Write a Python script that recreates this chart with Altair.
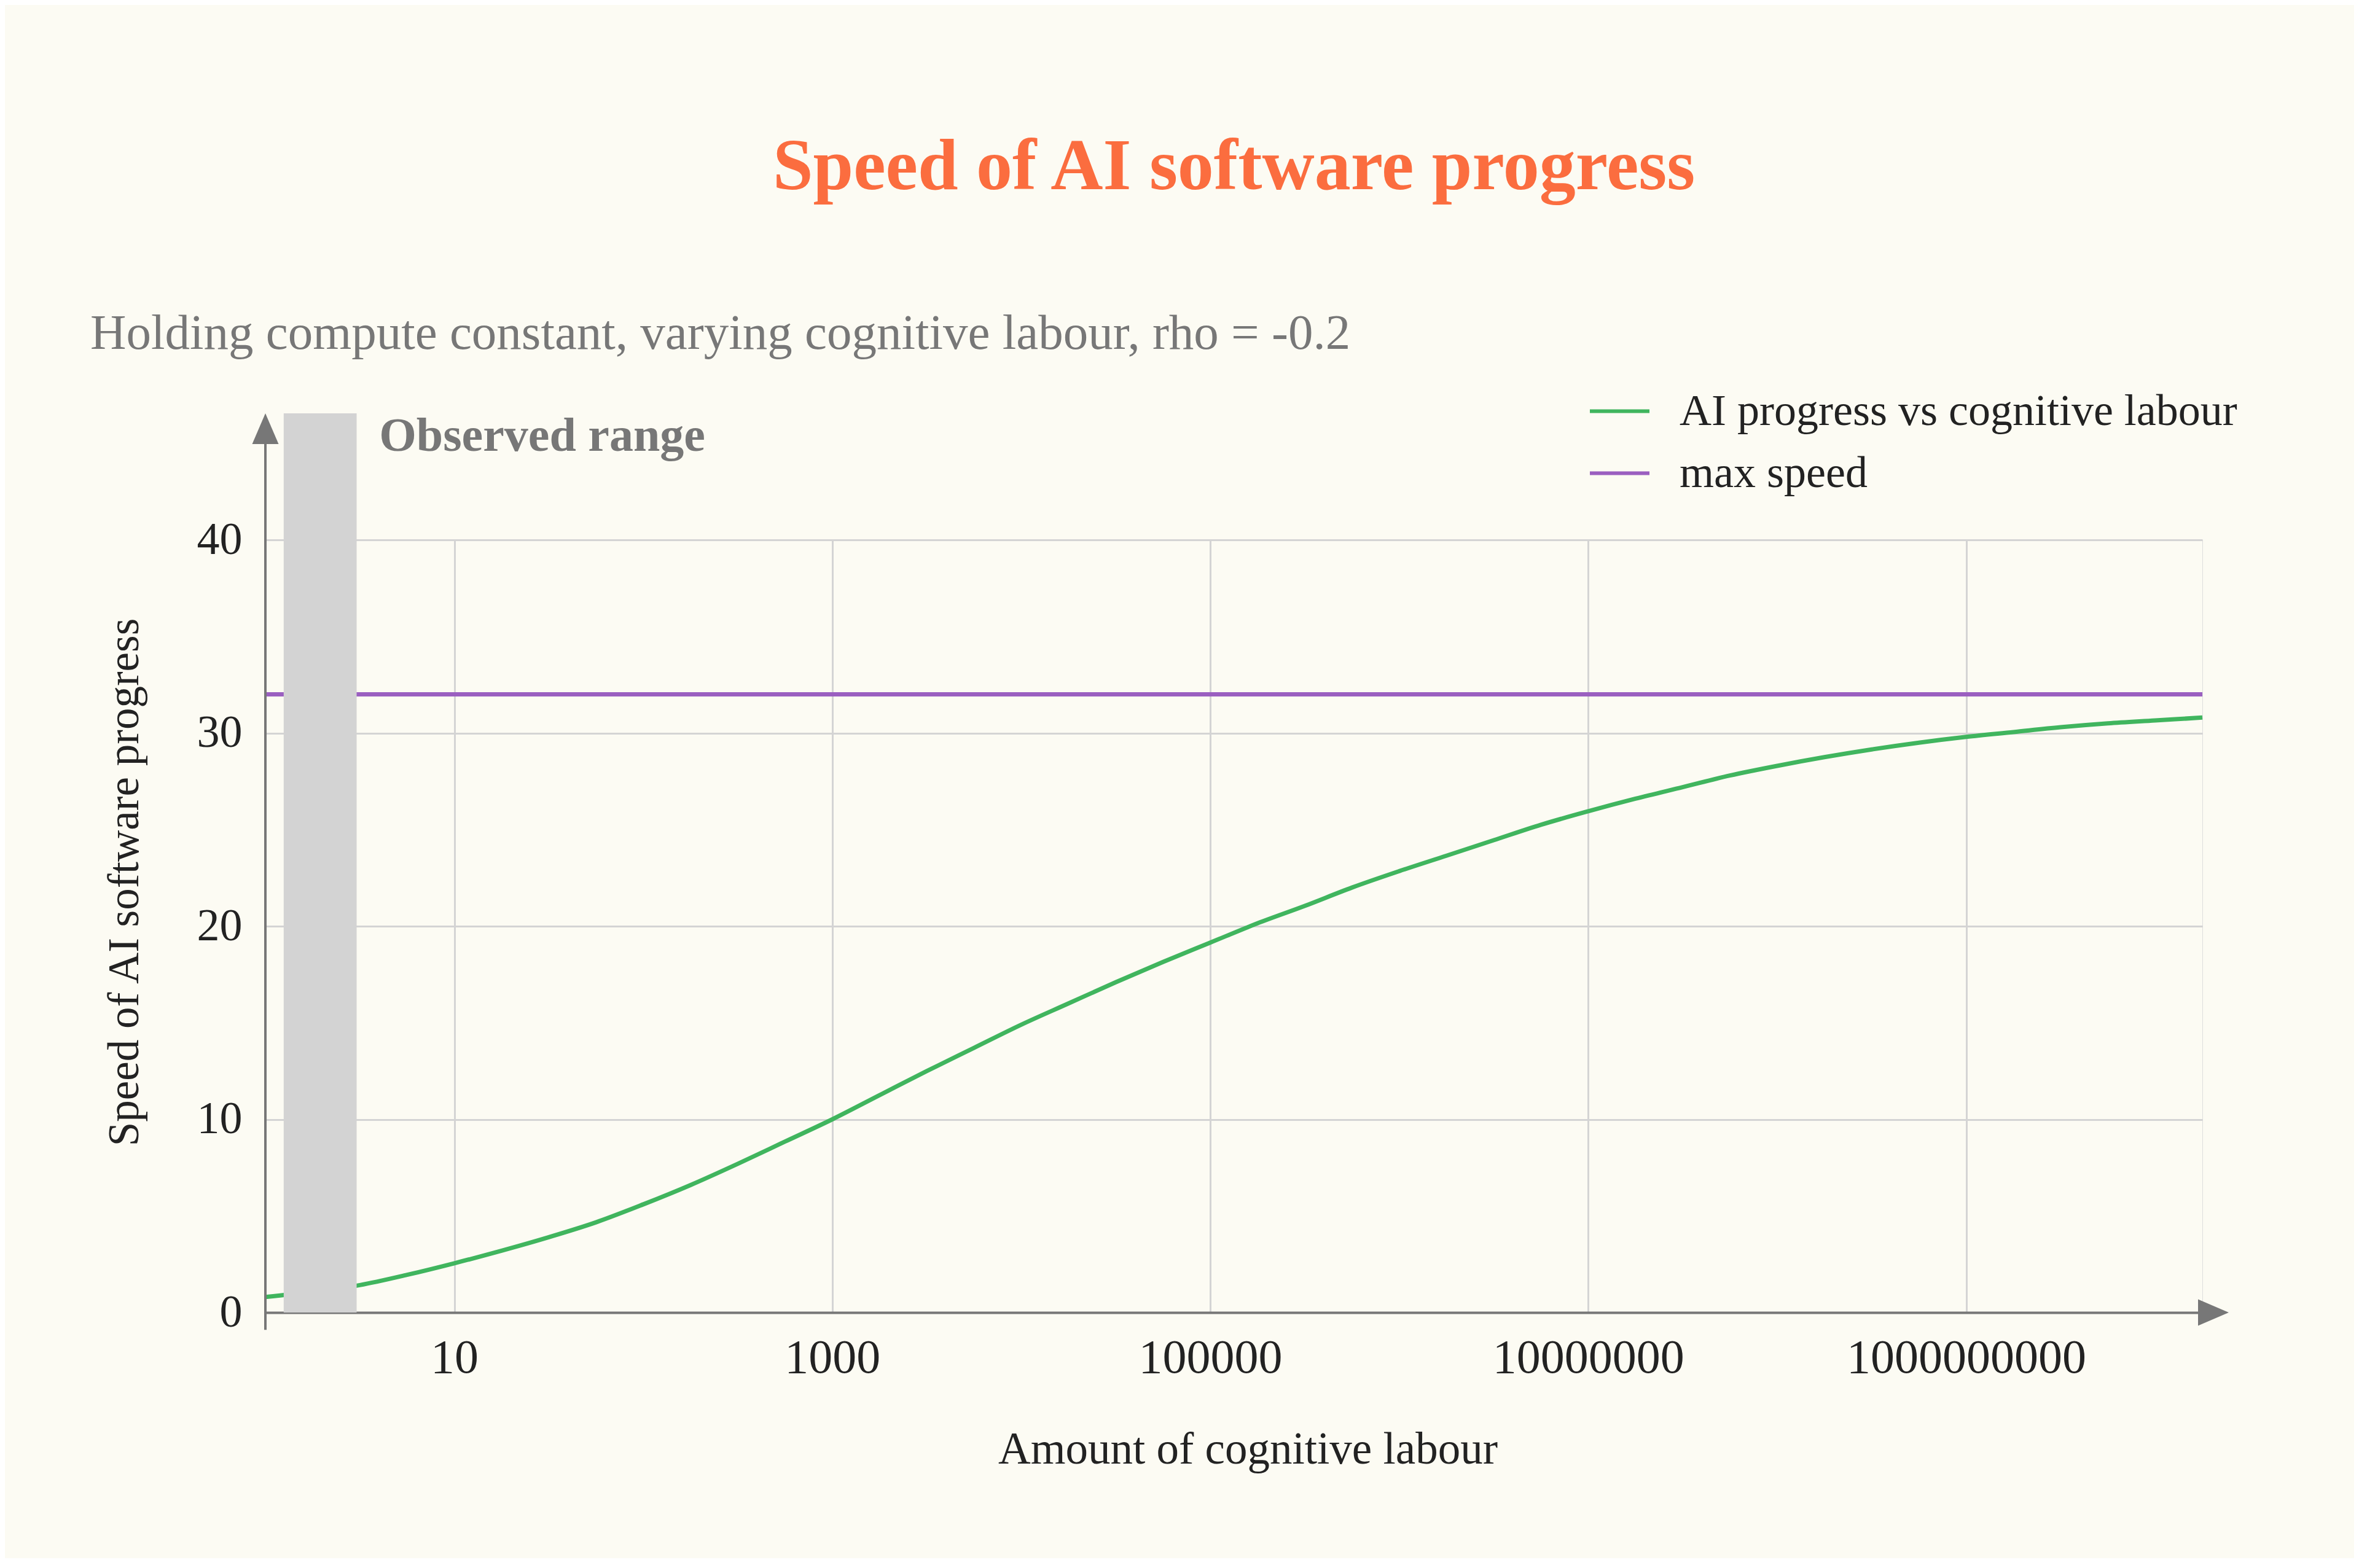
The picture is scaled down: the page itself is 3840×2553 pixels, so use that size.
import altair as alt
import pandas as pd

# ---------------- data ----------------
labour = [1.0, 1.778, 3.162, 5.623,
          10.0, 17.78, 31.62, 56.23,
          100.0, 177.8, 316.2, 562.3,
          1.0e3, 1.778e3, 3.162e3, 5.623e3,
          1.0e4, 1.778e4, 3.162e4, 5.623e4,
          1.0e5, 1.778e5, 3.162e5, 5.623e5,
          1.0e6, 1.778e6, 3.162e6, 5.623e6,
          1.0e7, 1.778e7, 3.162e7, 5.623e7,
          1.0e8, 1.778e8, 3.162e8, 5.623e8,
          1.0e9, 1.778e9, 3.162e9, 5.623e9,
          1.0e10, 1.778e10]
speed = [0.80, 1.08, 1.42, 1.95,
         2.55, 3.2, 3.9, 4.67,
         5.6, 6.6, 7.7, 8.85,
         10.0, 11.25, 12.5, 13.7,
         14.9, 16.0, 17.1, 18.15,
         19.15, 20.15, 21.05, 22.0,
         22.85, 23.65, 24.45, 25.25,
         25.95, 26.6, 27.2, 27.8,
         28.3, 28.75, 29.15, 29.5,
         29.8, 30.05, 30.3, 30.5,
         30.65, 30.8]
max_speed_x = [1.0, 1.778e10]
max_speed_y = [32.0, 32.0]
series_names = ["AI progress vs cognitive labour", "max speed"]
observed_range = [1.25, 3.04]     # x extent of the grey band
x_ticks = [10, 1000, 100000, 10000000, 1000000000]
y_ticks = [0, 10, 20, 30, 40]
x_domain = [1.0, 1.778e10]
y_domain = [0, 40]
y_top = 46.55                      # top of the band / y arrow

TITLE = "Speed of AI software progress"
SUBTITLE = "Holding compute constant, varying cognitive labour, rho = -0.2"
X_TITLE = "Amount of cognitive labour"
Y_TITLE = "Speed of AI software progress"
BAND_LABEL = "Observed range"

GREEN = "#40B55E"
PURPLE = "#9B5FC0"
BG = "#FCFBF3"
AXIS = "#777777"
GRID = "#D4D4D4"
INK = "#222222"
FONT = "Liberation Serif"

# ---------------- tables ----------------
lines_df = pd.concat([
    pd.DataFrame({"labour": labour, "speed": speed, "series": series_names[0]}),
    pd.DataFrame({"labour": max_speed_x, "speed": max_speed_y, "series": series_names[1]}),
], ignore_index=True)

band_df = pd.DataFrame({"labour": [observed_range[0]], "x1": [observed_range[1]],
                        "speed": [0.0], "y1": [y_top]})
yaxis_df = pd.DataFrame({"labour": [x_domain[0]], "speed": [-0.9], "y1": [y_top - 1.0]})
yarrow_df = pd.DataFrame({"labour": [x_domain[0]], "speed": [y_top]})
xarrow_df = pd.DataFrame({"labour": [x_domain[1]], "speed": [0.0]})
label_df = pd.DataFrame({"labour": [4.0], "speed": [44.6], "t": [BAND_LABEL]})
sub_df = pd.DataFrame({"t": [SUBTITLE]})

xs = alt.Scale(type="log", domain=x_domain)
ys = alt.Scale(domain=y_domain)

x_axis = alt.Axis(values=x_ticks, format="d", ticks=False, domain=True,
                  domainColor=AXIS, domainWidth=4, grid=True,
                  gridColor=GRID, gridWidth=3,
                  labelFontSize=78, labelColor=INK, labelFont=FONT,
                  labelPadding=35, labelFlush=False, labelLimit=2000,
                  labelOverlap=False,
                  title=X_TITLE, titleFontSize=73, titleFontWeight="normal",
                  titleColor=INK, titleFont=FONT,
                  titleX=1599, titleY=245, titleAlign="center",
                  titleBaseline="alphabetic")
y_axis = alt.Axis(values=y_ticks, ticks=False, domain=False, grid=True,
                  gridColor=GRID, gridWidth=3,
                  labelFontSize=74, labelColor=INK, labelFont=FONT,
                  labelPadding=38, labelLimit=2000,
                  title=Y_TITLE, titleFontSize=71, titleFontWeight="normal",
                  titleColor=INK, titleFont=FONT,
                  titleX=-208, titleY=557, titleAngle=270,
                  titleAlign="center", titleBaseline="alphabetic")

X = alt.X("labour:Q", scale=xs, axis=x_axis, title=X_TITLE)
Y = alt.Y("speed:Q", scale=ys, axis=y_axis, title=Y_TITLE)

lines = alt.Chart(lines_df).mark_line(strokeWidth=7, interpolate="monotone").encode(
    x=X, y=Y,
    color=alt.Color("series:N",
                    scale=alt.Scale(domain=series_names, range=[GREEN, PURPLE]),
                    legend=alt.Legend(orient="none", legendX=2153, legendY=-261,
                                      title=None, symbolType="stroke",
                                      symbolSize=9409, symbolStrokeWidth=6,
                                      labelFontSize=72, labelFont=FONT,
                                      labelColor=INK, labelOffset=46,
                                      labelLimit=3000, rowPadding=13, padding=0)),
    detail="series:N",
)

band = alt.Chart(band_df).mark_rect(color="#D3D3D3").encode(
    x=X, x2="x1:Q", y=Y, y2="y1:Q",
)

yaxis_line = alt.Chart(yaxis_df).mark_rule(color=AXIS, strokeWidth=4).encode(
    x=X, y=Y, y2="y1:Q",
)

yarrow = alt.Chart(yarrow_df).mark_point(
    shape="M0,-1L0.86,1L-0.86,1Z", size=2500, filled=True, color=AXIS,
    opacity=1, yOffset=25).encode(x=X, y=Y)

xarrow = alt.Chart(xarrow_df).mark_point(
    shape="M1,0L-1,-0.86L-1,0.86Z", size=2500, filled=True, color=AXIS,
    opacity=1, xOffset=18).encode(x=X, y=Y)

band_label = alt.Chart(label_df).mark_text(
    align="left", baseline="alphabetic", fontSize=78, fontWeight="bold",
    color=AXIS, font=FONT).encode(x=X, y=Y, text="t:N")

subtitle = alt.Chart(sub_df).mark_text(
    align="left", baseline="alphabetic", fontSize=81, color=AXIS, font=FONT).encode(
    x=alt.value(-285), y=alt.value(-311), text="t:N",
)

chart = alt.layer(lines, band, yaxis_line, yarrow, xarrow, band_label, subtitle).properties(
    width=3153, height=1258,
    title=alt.TitleParams(TITLE, fontSize=118, fontWeight="bold", color="#FB6D3F",
                          font=FONT, anchor="middle", frame="group", offset=170),
    autosize=alt.AutoSizeParams(type="none"),
    padding={"left": 424, "top": 871, "right": 247, "bottom": 400},
    background=BG,
).configure_view(strokeWidth=0, strokeOpacity=0).configure(font=FONT)

chart.save("out.html", embed_options={"renderer": "svg", "actions": False})
